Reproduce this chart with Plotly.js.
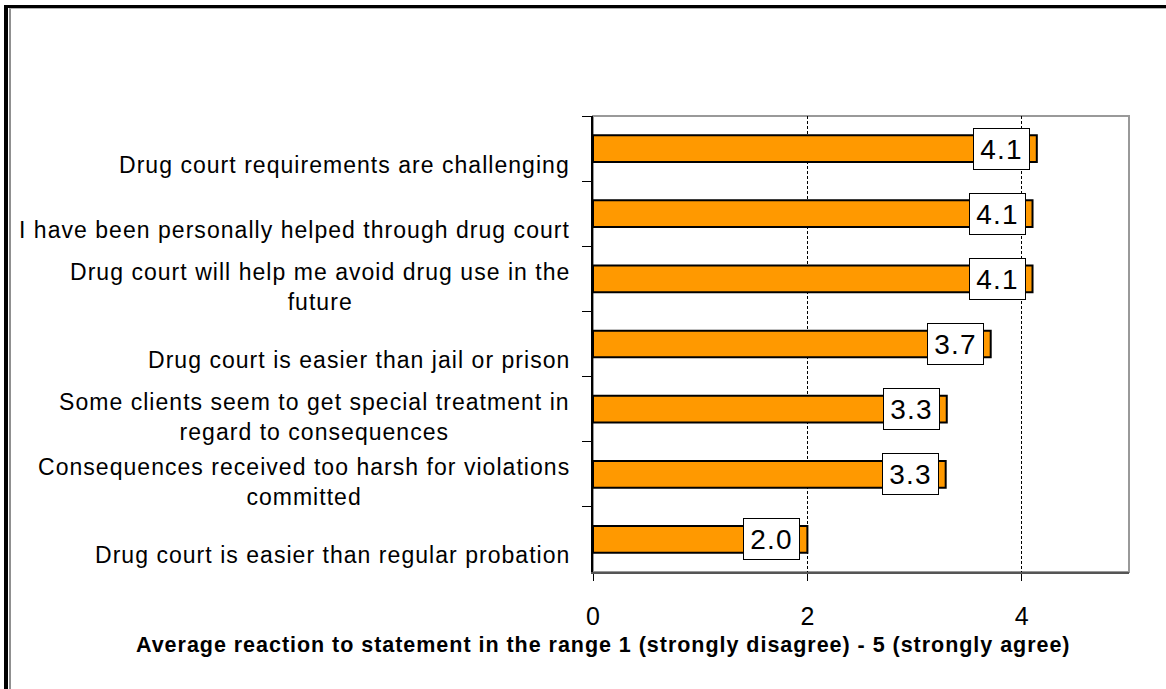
<!DOCTYPE html>
<html>
<head>
<meta charset="utf-8">
<script src="https://cdn.plot.ly/plotly-3.0.1.min.js"></script>
<style>
  html, body { margin: 0; padding: 0; background: #fff; }
  #wrap { position: relative; width: 1166px; height: 689px; overflow: hidden; }
  #chart { position: absolute; left: 0; top: 0; width: 1166px; height: 689px; }
  #frameOuter { position: absolute; left: 4px; top: 5px; right: -10px; bottom: -10px;
    border-top: 3px solid #000; border-left: 4px solid #000; pointer-events: none; }
  #frameInner { position: absolute; left: 9px; top: 8px; right: -10px; bottom: -10px;
    border-top: 1px solid #b0b0b0; border-left: 2px solid #909090; pointer-events: none; }
  .annotation-text { letter-spacing: 0.045em; }
</style>
</head>
<body>
<div id="wrap">
  <div id="chart"></div>
  <div id="frameOuter"></div>
  <div id="frameInner"></div>
</div>
<script>
// Data
const categories = [
  "Drug court requirements are challenging",
  "I have been personally helped through drug court",
  "Drug court will help me avoid drug use in the<br>future",
  "Drug court is easier than jail or prison",
  "Some clients seem to get special treatment in<br>regard to consequences",
  "Consequences received too harsh for violations<br>committed",
  "Drug court is easier than regular probation"
];
const values = [4.14, 4.10, 4.10, 3.71, 3.30, 3.29, 2.00];
const xTickVals = [0, 2, 4];
const xTitle = "Average reaction to statement in the range 1 (strongly disagree) - 5 (strongly agree)";

const FONT = "Liberation Sans, Arial, sans-serif";

const trace = {
  type: "bar",
  orientation: "h",
  x: values,
  y: categories,
  width: 0.41,
  marker: { color: "#FF9900", line: { color: "#000", width: 2 } },
  hoverinfo: "x+y"
};

const annotations = [];
// value labels in white boxes
values.forEach((v, i) => {
  annotations.push({
    x: v, y: categories[i], xref: "x", yref: "y",
    text: v.toFixed(1), showarrow: false,
    xanchor: "right", yanchor: "middle", xshift: -7,
    width: 55, height: 40, align: "center", valign: "middle",
    bgcolor: "#fff", bordercolor: "#000", borderwidth: 1, borderpad: 0,
    font: { family: FONT, size: 28, color: "#000" }
  });
});
// category labels
categories.forEach((c, i) => {
  const multi = c.indexOf("<br>") >= 0;
  annotations.push({
    x: 0, y: c, xref: "paper", yref: "y",
    text: c, showarrow: false,
    xanchor: "right", yanchor: "middle", align: "center",
    xshift: -21, yshift: multi ? -8 : -16,
    font: { family: FONT, size: 23, color: "#000" }
  });
});
// axis title (centered on the whole chart area, as in the reference)
annotations.push({
  x: 0.02, y: -0.16, xref: "paper", yref: "paper",
  text: "<b>" + xTitle + "</b>", showarrow: false,
  xanchor: "center", yanchor: "middle",
  font: { family: FONT, size: 21.5, color: "#000" }
});

const layout = {
  width: 1166, height: 689,
  margin: { l: 593, r: 37, t: 116, b: 117, pad: 0 },
  paper_bgcolor: "#fff", plot_bgcolor: "#fff",
  showlegend: false,
  font: { family: FONT, color: "#000" },
  xaxis: {
    range: [0, 5], tickvals: xTickVals, ticktext: xTickVals.map(String),
    ticks: "outside", ticklen: 7, tickwidth: 1, tickcolor: "#000",
    showline: true, linecolor: "#555", linewidth: 2,
    showgrid: true, gridcolor: "#000", gridwidth: 1, griddash: "3px,2px",
    zeroline: false, fixedrange: true,
    tickfont: { family: FONT, size: 25, color: "#000" },
    ticklabelstandoff: 14
  },
  yaxis: {
    type: "category", autorange: "reversed",
    ticks: "outside", tickson: "boundaries", ticklen: 9, tickwidth: 1, tickcolor: "#000",
    showline: true, linecolor: "#000", linewidth: 2,
    showgrid: false, zeroline: false, showticklabels: false, fixedrange: true
  },
  shapes: [{
    type: "rect", xref: "paper", yref: "paper", x0: 0, x1: 1, y0: 0, y1: 1,
    line: { color: "#999", width: 2 }, layer: "below"
  }],
  annotations: annotations
};

Plotly.newPlot("chart", [trace], layout, { displayModeBar: false, staticPlot: true });
</script>
</body>
</html>
